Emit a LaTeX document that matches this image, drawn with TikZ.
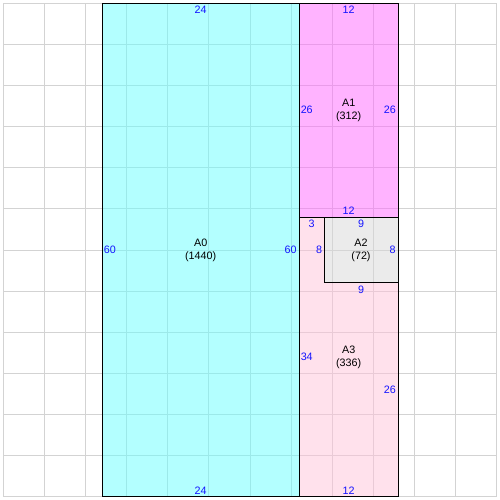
\documentclass[tikz,border=0pt]{standalone}
\usepackage{fontspec}
\setmainfont{Liberation Sans}
\definecolor{gridgray}{RGB}{211,211,211}
\definecolor{dimblue}{RGB}{20,20,255}
\definecolor{fillA0}{RGB}{103,255,255}
\definecolor{fillA1}{RGB}{255,103,255}
\definecolor{fillA2}{RGB}{215,215,215}
\definecolor{fillA3}{RGB}{255,195,217}
\begin{document}
\begin{tikzpicture}[x=2.5mm,y=-2.5mm,
        every node/.style={font=\fontsize{9.3}{11.2}\selectfont, inner sep=0pt},
        gridline/.style={draw=gridgray, line width=0.8pt},
        part/.style={draw=black, line width=0.8pt, fill opacity=0.5},
        dim/.style={text=dimblue},
        area/.style={align=center}]
      \useasboundingbox (-0.4,-0.4) rectangle (60.4,60.4);
      \foreach \i in {0,5,...,60} {                 % background grid
        \draw[gridline] (\i,0) -- (\i,60);
        \draw[gridline] (0,\i) -- (60,\i);}
      \draw[part, fill=fillA0] (12,0) rectangle (36,60);
      \draw[part, fill=fillA1] (36,0) rectangle (48,26);
      \draw[part, fill=fillA3] (36,26) -- (39,26) -- (39,34) -- (48,34)
        -- (48,60) -- (36,60) -- cycle;
      \draw[part, fill=fillA2] (39,26) rectangle (48,34);
      % A0
      \node[area] (A0) at (24,30) {A0\\(1440)};
      \node[dim] (A0top) at (24,0.82) {24};
      \node[dim] (A0bot) at (24,59.27) {24};
      \node[dim] (A0left) at (12.95,30) {60};
      \node[dim] (A0right) at (34.95,30) {60};
      % A1
      \node[area] (A1) at (42,13) {A1\\(312)};
      \node[dim] (A1top) at (42,0.82) {12};
      \node[dim] (A1bot) at (42,25.22) {12};
      \node[dim] (A1left) at (36.9,13) {26};
      \node[dim] (A1right) at (47.02,13) {26};
      % A2
      \node[area] (A2) at (43.5,30) {A2\\(72)};
      \node[dim] (A2top) at (43.5,26.84) {9};
      \node[dim] (A2right) at (47.35,30) {8};
      % A3
      \node[area] (A3) at (42,43) {A3\\(336)};
      \node[dim] (A3top) at (37.5,26.84) {3};
      \node[dim] (A3step) at (38.39,30) {8};
      \node[dim] (A3mid) at (43.5,34.86) {9};
      \node[dim] (A3right) at (47.02,47) {26};
      \node[dim] (A3bot) at (42,59.3) {12};
      \node[dim] (A3left) at (36.9,43) {34};
\end{tikzpicture}
\end{document}
